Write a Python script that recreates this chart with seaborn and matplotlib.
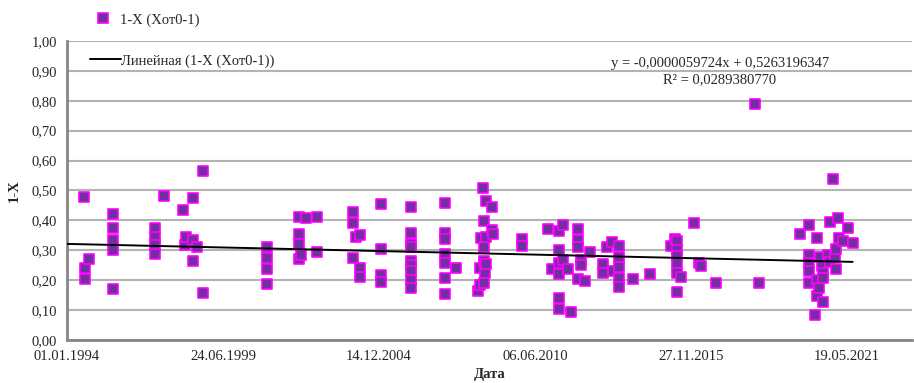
import numpy as np
import pandas as pd
import matplotlib
matplotlib.use("Agg")
import matplotlib.pyplot as plt
from matplotlib.lines import Line2D
import matplotlib.ticker as mticker
import seaborn as sns

# survey dates and the 1-X values measured on each of them
obs_dates = ["1994-08-10", "1994-08-18", "1994-10-12", "1995-08-18", "1997-02-02", "1997-06-03",
             "1998-01-22", "1998-02-20", "1998-03-06", "1998-05-30", "1998-07-20", "1998-10-05",
             "2001-01-04", "2002-02-24", "2002-03-18", "2002-05-22", "2002-10-05", "2004-01-18",
             "2004-02-22", "2004-04-14", "2005-01-08", "2006-02-02", "2007-04-08", "2007-08-25",
             "2008-06-10", "2008-07-01", "2008-07-16", "2008-08-03", "2008-08-22", "2008-09-05",
             "2008-09-16", "2008-11-28", "2008-12-16", "2009-12-16", "2010-11-20", "2011-01-04",
             "2011-04-12", "2011-06-03", "2011-08-04", "2011-09-09", "2011-12-13", "2012-01-22",
             "2012-03-06", "2012-05-11", "2012-10-26", "2012-12-09", "2013-02-13", "2013-03-03",
             "2013-05-15", "2013-11-18", "2014-06-18", "2015-03-11", "2015-05-05", "2015-05-27",
             "2015-07-28", "2016-01-08", "2016-03-10", "2016-04-01", "2016-10-12", "2018-02-24",
             "2018-04-20", "2019-09-24", "2020-01-15", "2020-04-01", "2020-04-23", "2020-05-01",
             "2020-05-27", "2020-06-07", "2020-06-29", "2020-07-10", "2020-07-20", "2020-09-20",
             "2020-10-12", "2020-10-19", "2020-11-24", "2020-12-16", "2021-01-04", "2021-01-26",
             "2021-02-10", "2021-04-02", "2021-06-03", "2021-07-31"]
obs_values = [[0.478], [0.242, 0.204], [0.271], [0.421, 0.373, 0.334, 0.301, 0.169],
              [0.373, 0.343, 0.318, 0.288], [0.482],
              [0.435], [0.318], [0.343], [0.476, 0.334, 0.264], [0.312], [0.565, 0.158],
              [0.310, 0.273, 0.236, 0.187], [0.412, 0.353, 0.321, 0.270], [0.284], [0.409],
              [0.412, 0.293], [0.429, 0.390, 0.275],
              [0.343], [0.351, 0.242, 0.212], [0.455, 0.304, 0.217, 0.193],
              [0.444, 0.359, 0.320, 0.312, 0.265, 0.251, 0.232, 0.201, 0.173],
              [0.459, 0.357, 0.337, 0.287, 0.256, 0.206, 0.153], [0.242],
              [0.164], [0.240, 0.184], [0.340], [0.509], [0.398, 0.312, 0.265, 0.192], [0.225],
              [0.466, 0.343, 0.254], [0.446, 0.368], [0.353], [0.337, 0.314], [0.371], [0.236],
              [0.366, 0.301, 0.256, 0.221, 0.139, 0.104], [0.385, 0.268], [0.236], [0.092],
              [0.370, 0.334, 0.312, 0.203], [0.268, 0.251],
              [0.197], [0.295], [0.254, 0.225], [0.312], [0.329], [0.232],
              [0.314, 0.279, 0.243, 0.206, 0.178], [0.203], [0.221], [0.314], [0.337],
              [0.331, 0.301, 0.281, 0.256, 0.225, 0.162],
              [0.212], [0.392], [0.259], [0.247], [0.190], [0.789],
              [0.190], [0.355], [0.385, 0.284, 0.259, 0.231, 0.192], [0.084], [0.201, 0.147], [0.342],
              [0.173], [0.276], [0.247], [0.128], [0.223, 0.206], [0.284],
              [0.262], [0.396], [0.538], [0.279], [0.303, 0.236], [0.409],
              [0.342], [0.331], [0.376], [0.323]]

# excel trendline shown on the chart (x is excel serial day)
trend_slope = -0.0000059724
trend_icpt = 0.5263196347
eq_text = "y = -0,0000059724x + 0,5263196347"
r2_text = "R² = 0,0289380770"

x_start = 34335   # 01.01.1994
x_step = 2000
x_end = 45168

excel0 = pd.Timestamp("1899-12-30")

df = pd.DataFrame({"date": obs_dates, "val": obs_values}).explode("val")
df["val"] = df["val"].astype(float)
df["serial"] = (pd.to_datetime(df["date"]) - excel0).dt.days

sns.set_style("white")
plt.rcParams["font.family"] = ["Liberation Serif", "DejaVu Serif"]

fig = plt.figure(figsize=(9.14, 3.83), dpi=100)
ax = fig.add_axes([0.0733, 0.1123, 0.9245, 0.781])

sns.scatterplot(data=df, x="serial", y="val", marker="s", s=52, color="#7030a0",
                edgecolor="#ff00ff", linewidth=1.2, ax=ax, zorder=3, legend=False)

tx = np.array([x_start, df["serial"].max()])
ax.plot(tx, trend_slope * tx + trend_icpt, color="black", lw=1.4, zorder=4)

ax.set_xlim(x_start, x_end)
ax.set_ylim(0, 1)
ax.set_xticks(np.arange(x_start, x_end, x_step))
ax.xaxis.set_major_formatter(mticker.FuncFormatter(
    lambda v, p: (excel0 + pd.Timedelta(days=int(v))).strftime("%d.%m.%Y")))
ax.set_yticks(np.arange(0, 1.01, 0.1))
ax.yaxis.set_major_formatter(mticker.FuncFormatter(lambda v, p: f"{v:.2f}".replace(".", ",")))

ax.yaxis.grid(True, color="#b3b3b3", lw=1.5)
ax.set_axisbelow(True)
for s in ["top", "right"]:
    ax.spines[s].set_visible(False)
for s in ["left", "bottom"]:
    ax.spines[s].set_color("#868686")
    ax.spines[s].set_linewidth(2)
ax.tick_params(direction="out", length=4, width=1, color="#868686", labelsize=10.5, pad=3)

ax.set_xlabel("Дата", fontweight="bold", fontsize=10.5, labelpad=4)
ax.set_ylabel("1-X", fontweight="bold", fontsize=10.5, labelpad=8)

h1 = Line2D([], [], marker="s", ls="", mfc="#7030a0", mec="#ff00ff", ms=7.5, mew=1.2)
fig.legend([h1], ["1-X (Xот0-1)"], loc="center left", bbox_to_anchor=(81 / 914, 1 - 20 / 383),
           frameon=False, fontsize=10.5, handlelength=1.2, handletextpad=0.6)
h2 = Line2D([], [], color="black", lw=1.4)
fig.legend([h2], ["Линейная (1-X (Xот0-1))"], loc="center left", bbox_to_anchor=(77 / 914, 1 - 61 / 383),
           frameon=False, fontsize=10.5, handlelength=2.1, handletextpad=0.05)

fig.text(720 / 914, 1 - 63 / 383, eq_text, ha="center", va="center", fontsize=10.5)
fig.text(720 / 914, 1 - 80 / 383, r2_text, ha="center", va="center", fontsize=10.5)

fig.savefig("out.png", dpi=100)
